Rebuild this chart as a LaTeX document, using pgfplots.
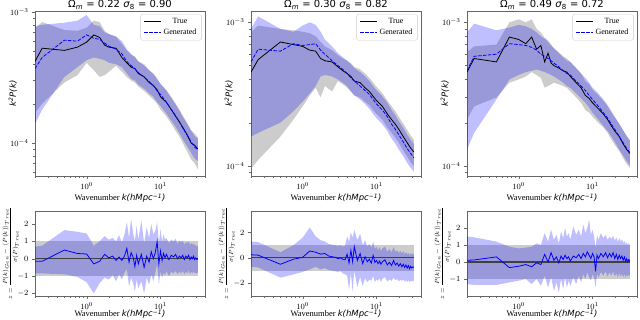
\documentclass[border=0pt]{standalone}
\usepackage{fontspec}
\setmainfont{Liberation Serif}
\newfontfamily\dejavu{DejaVu Sans}
\usepackage{pgfplots}
\usepackage{pgfplotstable}
\pgfplotsset{compat=1.18}
\usepgfplotslibrary{fillbetween}

% top panels: k, true mean, true band, generated mean, generated band
\pgfplotstableread{
k    T       Tlo     Thi     G       Glo     Ghi
0.2  4.2e-4  1.7e-4  7.5e-4  3.7e-4  1.4e-4  7.8e-4
0.25 5.3e-4  2.0e-4  8.4e-4  4.5e-4  1.8e-4  8.0e-4
0.5  5.1e-4  2.9e-4  7.3e-4  6.1e-4  3.2e-4  8.3e-4
0.75 5.4e-4  3.3e-4  7.2e-4  6.0e-4  3.8e-4  8.6e-4
1.0  5.9e-4  4.1e-4  7.6e-4  6.7e-4  4.3e-4  9.5e-4
1.25 6.7e-4  3.6e-4  8.6e-4  6.3e-4  4.5e-4  8.0e-4
1.5  6.4e-4  3.2e-4  8.4e-4  6.2e-4  4.4e-4  7.8e-4
1.75 5.6e-4  3.3e-4  7.2e-4  5.8e-4  4.3e-4  7.0e-4
2.0  5.4e-4  3.5e-4  6.8e-4  5.5e-4  4.1e-4  6.8e-4
2.5  5.3e-4  3.9e-4  6.5e-4  5.2e-4  4.0e-4  6.5e-4
3.0  4.5e-4  3.5e-4  5.7e-4  4.8e-4  3.8e-4  6.0e-4
3.5  4.1e-4  3.2e-4  5.1e-4  4.2e-4  3.4e-4  5.2e-4
4.0  3.8e-4  3.0e-4  4.7e-4  3.9e-4  3.1e-4  4.8e-4
4.5  3.7e-4  2.9e-4  4.6e-4  3.7e-4  3.0e-4  4.5e-4
5    3.4e-4  2.7e-4  4.2e-4  3.45e-4 2.8e-4  4.2e-4
6    3.2e-4  2.5e-4  4.0e-4  3.2e-4  2.6e-4  3.9e-4
7    2.9e-4  2.3e-4  3.6e-4  2.95e-4 2.4e-4  3.6e-4
8    2.75e-4 2.15e-4 3.4e-4  2.75e-4 2.25e-4 3.35e-4
9    2.55e-4 2.0e-4  3.15e-4 2.5e-4  2.05e-4 3.05e-4
10   2.25e-4 1.8e-4  2.8e-4  2.35e-4 1.92e-4 2.85e-4
12   2.05e-4 1.6e-4  2.55e-4 2.05e-4 1.68e-4 2.5e-4
14   1.8e-4  1.4e-4  2.25e-4 1.8e-4  1.48e-4 2.2e-4
16   1.6e-4  1.24e-4 2.0e-4  1.62e-4 1.33e-4 1.97e-4
18   1.45e-4 1.12e-4 1.8e-4  1.45e-4 1.19e-4 1.76e-4
20   1.32e-4 1.0e-4  1.63e-4 1.3e-4  1.07e-4 1.58e-4
23   1.15e-4 8.6e-5  1.42e-4 1.15e-4 9.4e-5  1.4e-4
26   1.0e-4  7.5e-5  1.25e-4 1.02e-4 8.4e-5  1.24e-4
29   9.6e-5  7.0e-5  1.18e-4 9.3e-5  7.6e-5  1.13e-4
32   9.0e-5  6.3e-5  1.1e-4  8.9e-5  7.3e-5  1.08e-4
}\topA

\pgfplotstableread{
k    T       Tlo     Thi     G       Glo     Ghi
0.2  4.5e-4  9.5e-5  8.5e-4  5.3e-4  1.6e-4  9.0e-4
0.25 5.5e-4  1.1e-4  9.5e-4  6.5e-4  1.7e-4  1.1e-3
0.5  7.3e-4  1.6e-4  9.0e-4  6.3e-4  2.0e-4  9.0e-4
0.75 7.0e-4  2.1e-4  8.8e-4  7.1e-4  2.4e-4  8.6e-4
1.0  6.8e-4  2.6e-4  8.6e-4  6.9e-4  2.8e-4  9.5e-4
1.25 6.4e-4  3.1e-4  8.4e-4  7.0e-4  3.2e-4  1.0e-3
1.5  6.3e-4  3.5e-4  8.0e-4  7.1e-4  3.6e-4  9.6e-4
1.75 5.6e-4  3.0e-4  7.3e-4  6.4e-4  4.2e-4  8.6e-4
2.0  5.4e-4  3.6e-4  6.8e-4  6.0e-4  4.3e-4  7.6e-4
2.5  5.3e-4  3.3e-4  6.4e-4  5.4e-4  4.2e-4  6.8e-4
3.0  4.9e-4  3.9e-4  5.9e-4  5.0e-4  4.0e-4  6.1e-4
3.5  4.6e-4  3.7e-4  5.6e-4  4.7e-4  3.8e-4  5.7e-4
4.0  4.4e-4  3.5e-4  5.4e-4  4.4e-4  3.6e-4  5.4e-4
4.5  4.2e-4  3.3e-4  5.2e-4  4.1e-4  3.3e-4  5.1e-4
5    3.9e-4  3.1e-4  4.9e-4  3.9e-4  3.1e-4  4.8e-4
6    3.8e-4  3.0e-4  4.7e-4  3.6e-4  2.9e-4  4.5e-4
7    3.5e-4  2.8e-4  4.4e-4  3.35e-4 2.7e-4  4.2e-4
8    3.3e-4  2.65e-4 4.1e-4  3.15e-4 2.5e-4  3.9e-4
9    3.05e-4 2.45e-4 3.8e-4  2.9e-4  2.3e-4  3.6e-4
10   2.85e-4 2.3e-4  3.55e-4 2.7e-4  2.15e-4 3.35e-4
12   2.6e-4  2.1e-4  3.2e-4  2.45e-4 1.95e-4 3.05e-4
14   2.3e-4  1.85e-4 2.85e-4 2.2e-4  1.75e-4 2.75e-4
16   2.1e-4  1.7e-4  2.6e-4  1.95e-4 1.55e-4 2.45e-4
18   1.95e-4 1.57e-4 2.4e-4  1.8e-4  1.43e-4 2.25e-4
20   1.8e-4  1.45e-4 2.2e-4  1.65e-4 1.3e-4  2.05e-4
23   1.6e-4  1.28e-4 1.97e-4 1.47e-4 1.17e-4 1.84e-4
26   1.45e-4 1.16e-4 1.78e-4 1.32e-4 1.05e-4 1.65e-4
29   1.33e-4 1.06e-4 1.63e-4 1.22e-4 9.7e-5  1.52e-4
32   1.25e-4 1.0e-4  1.52e-4 1.14e-4 9.1e-5  1.42e-4
}\topB

\pgfplotstableread{
k    T       Tlo     Thi     G       Glo     Ghi
0.2  4.5e-4  2.1e-4  6.2e-4  4.6e-4  1.3e-4  8.5e-4
0.25 5.6e-4  2.6e-4  6.8e-4  5.8e-4  1.7e-4  9.8e-4
0.5  5.3e-4  3.0e-4  7.0e-4  6.0e-4  2.9e-4  8.8e-4
0.75 7.9e-4  3.8e-4  1.0e-3  7.1e-4  4.0e-4  9.2e-4
1.0  7.6e-4  4.0e-4  1.05e-3 7.0e-4  4.3e-4  9.6e-4
1.25 7.1e-4  4.2e-4  1.0e-3  6.9e-4  4.5e-4  9.4e-4
1.5  7.9e-4  4.5e-4  1.05e-3 6.7e-4  4.6e-4  9.0e-4
1.75 6.5e-4  4.3e-4  9.0e-4  6.4e-4  4.7e-4  8.5e-4
2.0  6.9e-4  4.1e-4  8.5e-4  6.0e-4  4.6e-4  8.0e-4
2.25 5.3e-4  3.5e-4  7.8e-4  5.8e-4  4.5e-4  7.7e-4
2.5  6.1e-4  3.6e-4  7.5e-4  5.6e-4  4.4e-4  7.3e-4
2.75 5.2e-4  3.7e-4  7.0e-4  5.4e-4  4.3e-4  6.9e-4
3.0  5.0e-4  3.8e-4  6.6e-4  5.2e-4  4.2e-4  6.6e-4
3.5  4.8e-4  3.7e-4  6.2e-4  4.9e-4  4.0e-4  6.1e-4
4.0  4.6e-4  3.6e-4  5.8e-4  4.6e-4  3.8e-4  5.7e-4
4.5  4.5e-4  3.5e-4  5.6e-4  4.4e-4  3.6e-4  5.4e-4
5    4.2e-4  3.3e-4  5.3e-4  4.3e-4  3.5e-4  5.3e-4
6    3.8e-4  3.0e-4  4.8e-4  3.9e-4  3.2e-4  4.8e-4
7    3.5e-4  2.75e-4 4.4e-4  3.6e-4  2.95e-4 4.4e-4
8    3.1e-4  2.45e-4 3.9e-4  3.35e-4 2.75e-4 4.1e-4
9    2.95e-4 2.35e-4 3.7e-4  3.1e-4  2.55e-4 3.8e-4
10   2.75e-4 2.2e-4  3.4e-4  2.9e-4  2.35e-4 3.5e-4
12   2.5e-4  2.0e-4  3.1e-4  2.6e-4  2.1e-4  3.2e-4
14   2.3e-4  1.85e-4 2.85e-4 2.35e-4 1.9e-4  2.9e-4
16   2.1e-4  1.7e-4  2.6e-4  2.15e-4 1.75e-4 2.65e-4
18   1.9e-4  1.52e-4 2.35e-4 1.95e-4 1.6e-4  2.4e-4
20   1.75e-4 1.4e-4  2.17e-4 1.8e-4  1.47e-4 2.2e-4
23   1.6e-4  1.27e-4 1.98e-4 1.6e-4  1.3e-4  1.95e-4
26   1.42e-4 1.13e-4 1.76e-4 1.45e-4 1.18e-4 1.77e-4
29   1.3e-4  1.03e-4 1.62e-4 1.32e-4 1.08e-4 1.61e-4
32   1.22e-4 9.7e-5  1.5e-4  1.24e-4 1.01e-4 1.51e-4
}\topC

% bottom panels: k, z score, band
\pgfplotstableread{
k    z      lo     hi
0.2  -0.15  -0.85  0.70
0.25 -0.15  -0.85  0.75
0.5   0.50  -0.90  1.65
0.75  0.30  -1.05  1.55
1.0   0.27  -1.35  1.45
1.25 -0.30  -2.00  0.75
1.5  -0.15  -1.40  1.00
1.75  0.25  -1.10  1.30
2.0   0.05  -1.20  1.10
2.25  0.15  -0.95  1.20
2.5  -0.10  -1.30  1.00
2.75  0.10  -0.90  1.35
3.0  -0.10  -1.20  0.95
3.25  0.15  -0.80  1.40
3.5   0.60  -0.60  2.10
3.75 -0.20  -1.60  1.20
4.0   0.35  -1.10  2.30
4.25  0.10  -1.40  1.50
4.5  -0.45  -1.90  1.00
4.75  0.20  -1.20  1.90
5.0  -0.30  -1.70  1.10
5.5   0.25  -1.30  2.20
6.0  -0.50  -2.00  0.90
6.5   0.15  -1.10  1.80
7.0  -0.20  -1.50  1.20
7.5   0.40  -0.90  2.00
8.0   0.00  -1.30  1.40
8.5   0.35  -0.80  1.60
9.0   1.00  -0.30  2.10
9.5  -0.30  -1.50  0.90
10    0.45  -0.70  1.70
10.5 -0.10  -1.10  1.00
11    0.30  -0.80  1.40
11.5  0.05  -0.95  1.10
12    0.25  -0.70  1.20
13   -0.05  -1.00  0.90
14    0.20  -0.75  1.10
15    0.10  -0.85  1.00
16    0.25  -0.70  1.15
17    0.00  -0.90  0.85
18    0.15  -0.75  1.05
19    0.05  -0.85  0.95
20    0.20  -0.70  1.05
21   -0.05  -0.90  0.80
22    0.15  -0.75  0.95
23    0.05  -0.85  0.90
24    0.20  -0.65  1.00
25   -0.05  -0.90  0.80
26    0.10  -0.75  0.90
27    0.00  -0.85  0.80
28    0.15  -0.70  0.90
29   -0.05  -0.85  0.75
30    0.05  -0.80  0.80
31   -0.05  -0.85  0.70
32    0.00  -0.80  0.75
}\botA

\pgfplotstableread{
k    z      lo     hi
0.2   0.25  -0.70  1.30
0.25  0.22  -0.75  1.25
0.5  -0.50  -1.55  0.45
0.75 -0.10  -1.30  1.00
1.0   0.05  -1.10  1.60
1.25  0.55  -0.90  2.40
1.5   0.45  -0.70  1.70
1.75  0.30  -0.90  1.40
2.0   0.35  -0.80  1.30
2.25  0.15  -0.95  1.10
2.5   0.10  -1.00  1.05
2.75  0.05  -1.05  1.00
3.0  -0.05  -1.10  0.95
3.25  0.00  -1.05  1.00
3.5  -0.10  -1.20  0.90
3.75 -0.15  -1.30  0.95
4.0   0.30  -1.40  1.70
4.25 -0.40  -2.50  1.30
4.5   0.60  -1.20  2.00
4.75 -0.30  -2.70  1.60
5.0   0.90  -1.00  2.20
5.5  -0.20  -2.30  1.40
6.0   0.35  -1.50  1.90
6.5  -0.45  -2.20  1.00
7.0   0.10  -1.60  1.40
7.5  -0.30  -1.90  0.90
8.0  -0.10  -1.70  1.10
8.5  -0.40  -1.80  0.80
9.0   0.20  -1.40  1.30
9.5  -0.35  -1.90  0.70
10   -0.20  -1.70  0.90
10.5 -0.45  -1.80  0.60
11   -0.25  -1.60  0.85
11.5 -0.50  -1.90  0.55
12   -0.30  -1.65  0.75
13   -0.15  -1.50  0.90
14   -0.55  -1.85  0.50
15   -0.35  -1.70  0.70
16   -0.60  -1.80  0.45
17   -0.20  -1.55  0.85
18   -0.55  -1.75  0.50
19   -0.40  -1.65  0.60
20   -0.65  -1.85  0.40
21   -0.45  -1.70  0.55
22   -0.70  -1.80  0.35
23   -0.50  -1.70  0.55
24   -0.75  -1.85  0.30
25   -0.55  -1.75  0.45
26   -0.80  -1.90  0.30
27   -0.60  -1.75  0.40
28   -0.85  -1.90  0.25
29   -0.65  -1.80  0.35
30   -0.80  -1.85  0.30
31   -0.70  -1.80  0.35
32   -0.75  -1.85  0.30
}\botB

\pgfplotstableread{
k    z      lo     hi
0.2   0.10  -1.30  1.50
0.25  0.12  -1.35  1.45
0.5   0.30  -1.35  1.20
0.75 -0.33  -1.20  0.90
1.0  -0.25  -1.10  0.80
1.25 -0.15  -1.00  0.85
1.5  -0.28  -1.30  0.90
1.75 -0.05  -1.00  1.10
2.0  -0.15  -1.40  1.00
2.25  0.45  -0.80  1.70
2.5   0.00  -1.50  1.20
2.75  0.55  -0.90  1.90
3.0   0.10  -1.70  1.30
3.25  0.30  -1.20  1.60
3.5  -0.05  -1.80  1.10
3.75  0.35  -1.00  1.80
4.0   0.15  -1.60  1.40
4.25  0.40  -0.90  2.00
4.5   0.20  -1.50  1.50
4.75  0.30  -1.10  1.70
5.0   0.05  -1.40  1.30
5.5   0.35  -0.90  2.10
6.0   0.25  -1.30  1.60
6.5   0.45  -0.80  1.90
7.0   0.20  -1.20  1.50
7.5   0.50  -0.70  2.20
8.0   0.30  -1.00  1.70
8.5   0.60  -0.60  2.00
9.0   0.40  -0.90  2.50
9.5   0.20  -1.10  1.60
10    0.50  -0.70  1.90
10.5  0.30  -0.90  1.50
11   -0.55  -1.50  0.80
11.5  0.40  -0.70  1.60
12    0.20  -0.90  1.30
13    0.50  -0.60  1.70
14    0.30  -0.80  1.40
15    0.55  -0.55  1.60
16    0.25  -0.85  1.30
17    0.50  -0.60  1.50
18    0.30  -0.80  1.35
19    0.55  -0.55  1.55
20    0.20  -0.85  1.25
21    0.45  -0.65  1.45
22    0.15  -0.90  1.20
23    0.40  -0.65  1.40
24    0.20  -0.85  1.20
25    0.35  -0.70  1.35
26    0.10  -0.90  1.10
27    0.30  -0.70  1.25
28    0.05  -0.90  1.05
29    0.20  -0.75  1.15
30    0.00  -0.85  1.00
31    0.15  -0.75  1.10
32    0.05  -0.80  1.00
}\botC

\newcommand\topplots[1]{%
  \addplot[draw=none, name path=tl, forget plot] table[x=k,y=Tlo]{#1};
  \addplot[draw=none, name path=th, forget plot] table[x=k,y=Thi]{#1};
  \addplot[draw=none, name path=gl, forget plot] table[x=k,y=Glo]{#1};
  \addplot[draw=none, name path=gh, forget plot] table[x=k,y=Ghi]{#1};
  \addplot[draw=none, fill=gray, fill opacity=0.4, forget plot] fill between[of=tl and th];
  \addplot[draw=none, fill=blue, fill opacity=0.25, forget plot] fill between[of=gl and gh];
  \addplot[black, line width=0.8pt] table[x=k,y=T]{#1};
  \addlegendentry{True}
  \addplot[blue, line width=0.8pt, dash pattern=on 3.5pt off 1.5pt] table[x=k,y=G]{#1};
  \addlegendentry{Generated}
}
\newcommand\botplots[1]{%
  \addplot[draw=none, name path=za, forget plot] coordinates {(0.2,-1) (32,-1)};
  \addplot[draw=none, name path=zb, forget plot] coordinates {(0.2,1) (32,1)};
  \addplot[draw=none, fill=gray, fill opacity=0.4, forget plot] fill between[of=za and zb];
  \addplot[draw=none, name path=bl, forget plot] table[x=k,y=lo]{#1};
  \addplot[draw=none, name path=bh, forget plot] table[x=k,y=hi]{#1};
  \addplot[draw=none, fill=blue, fill opacity=0.25, forget plot] fill between[of=bl and bh];
  \addplot[black!75, line width=1.1pt, forget plot] coordinates {(0.2,0) (32,0)};
  \addplot[blue, line width=0.8pt, forget plot] table[x=k,y=z]{#1};
}

\newcommand\xlab{Wavenumber {\dejavu\itshape k(hMpc\textsuperscript{−1})}}
\newcommand\ylabtop{{\dejavu\itshape k\textsuperscript{2}P(k)}}
\newcommand\ylabbot{\fontsize{6.5}{7}\selectfont $\displaystyle z=\frac{P(k)_{Gen}-\langle P(k)\rangle_{True}}{\sigma(P)_{True}}$}

\begin{document}
\begin{tikzpicture}

% ---------- top row ----------
\begin{axis}[at={(35pt,144pt)}, anchor=south west,
  scale only axis, width=170pt, height=165pt,
  xmode=log, ymode=log, xmin=0.2, xmax=40, ymin=5.6e-5, ymax=1.02e-3,
  axis line style={black!60}, tick style={black!60}, tick align=outside,
  xtick pos=left, ytick pos=left, major tick length=3pt, minor tick length=1.8pt,
  ticklabel style={font=\fontsize{8}{9}\selectfont},
  xlabel={\xlab}, ylabel={\ylabtop},
  label style={font=\fontsize{8.5}{10}\selectfont},
  xlabel style={at={(axis description cs:0.5,0)}, anchor=base, yshift=-25pt},
  ylabel style={at={(axis description cs:-0.085,0.5)}, anchor=south},
  title={Ω\textsubscript{\textit{m}} = 0.22 \textit{σ}\textsubscript{8} = 0.90},
  title style={font=\dejavu\fontsize{10}{12}\selectfont, at={(0.5,1)}, anchor=base, yshift=-3pt},
  legend style={at={(0.98,0.98)}, anchor=north east, draw=black!20,
    rounded corners=2pt, font=\fontsize{8}{9.5}\selectfont,
    fill=white, fill opacity=0.8, text opacity=1}]
\topplots{\topA}
\end{axis}

\begin{axis}[at={(251pt,144pt)}, anchor=south west,
  scale only axis, width=170pt, height=165pt,
  xmode=log, ymode=log, xmin=0.2, xmax=40, ymin=8.5e-5, ymax=1.2e-3,
  axis line style={black!60}, tick style={black!60}, tick align=outside,
  xtick pos=left, ytick pos=left, major tick length=3pt, minor tick length=1.8pt,
  ticklabel style={font=\fontsize{8}{9}\selectfont},
  xlabel={\xlab}, ylabel={\ylabtop},
  label style={font=\fontsize{8.5}{10}\selectfont},
  xlabel style={at={(axis description cs:0.5,0)}, anchor=base, yshift=-25pt},
  ylabel style={at={(axis description cs:-0.085,0.5)}, anchor=south},
  title={Ω\textsubscript{\textit{m}} = 0.30 \textit{σ}\textsubscript{8} = 0.82},
  title style={font=\dejavu\fontsize{10}{12}\selectfont, at={(0.5,1)}, anchor=base, yshift=-3pt},
  legend style={at={(0.98,0.98)}, anchor=north east, draw=black!20,
    rounded corners=2pt, font=\fontsize{8}{9.5}\selectfont,
    fill=white, fill opacity=0.8, text opacity=1}]
\topplots{\topB}
\end{axis}

\begin{axis}[at={(467pt,144pt)}, anchor=south west,
  scale only axis, width=170pt, height=165pt,
  xmode=log, ymode=log, xmin=0.2, xmax=40, ymin=8.5e-5, ymax=1.2e-3,
  axis line style={black!60}, tick style={black!60}, tick align=outside,
  xtick pos=left, ytick pos=left, major tick length=3pt, minor tick length=1.8pt,
  ticklabel style={font=\fontsize{8}{9}\selectfont},
  xlabel={\xlab}, ylabel={\ylabtop},
  label style={font=\fontsize{8.5}{10}\selectfont},
  xlabel style={at={(axis description cs:0.5,0)}, anchor=base, yshift=-25pt},
  ylabel style={at={(axis description cs:-0.085,0.5)}, anchor=south},
  title={Ω\textsubscript{\textit{m}} = 0.49 \textit{σ}\textsubscript{8} = 0.72},
  title style={font=\dejavu\fontsize{10}{12}\selectfont, at={(0.5,1)}, anchor=base, yshift=-3pt},
  legend style={at={(0.98,0.98)}, anchor=north east, draw=black!20,
    rounded corners=2pt, font=\fontsize{8}{9.5}\selectfont,
    fill=white, fill opacity=0.8, text opacity=1}]
\topplots{\topC}
\end{axis}

% ---------- bottom row ----------
\begin{axis}[at={(35pt,24pt)}, anchor=south west,
  scale only axis, width=170pt, height=85pt,
  xmode=log, xmin=0.2, xmax=40, ymin=-2.15, ymax=2.75, ytick={-2,-1,0,1,2},
  axis line style={black!60}, tick style={black!60}, tick align=outside,
  xtick pos=left, ytick pos=left, major tick length=3pt, minor tick length=1.8pt,
  ticklabel style={font=\fontsize{8}{9}\selectfont},
  xlabel={\xlab}, ylabel={\ylabbot},
  label style={font=\fontsize{8.5}{10}\selectfont},
  xlabel style={at={(axis description cs:0.5,0)}, anchor=base, yshift=-21pt},
  ylabel style={at={(axis description cs:-0.075,0.5)}, anchor=south}]
\botplots{\botA}
\end{axis}

\begin{axis}[at={(251pt,24pt)}, anchor=south west,
  scale only axis, width=170pt, height=85pt,
  xmode=log, xmin=0.2, xmax=40, ymin=-3, ymax=3.7, ytick={-2,0,2},
  axis line style={black!60}, tick style={black!60}, tick align=outside,
  xtick pos=left, ytick pos=left, major tick length=3pt, minor tick length=1.8pt,
  ticklabel style={font=\fontsize{8}{9}\selectfont},
  xlabel={\xlab}, ylabel={\ylabbot},
  label style={font=\fontsize{8.5}{10}\selectfont},
  xlabel style={at={(axis description cs:0.5,0)}, anchor=base, yshift=-21pt},
  ylabel style={at={(axis description cs:-0.075,0.5)}, anchor=south}]
\botplots{\botB}
\end{axis}

\begin{axis}[at={(467pt,24pt)}, anchor=south west,
  scale only axis, width=170pt, height=85pt,
  xmode=log, xmin=0.2, xmax=40, ymin=-2, ymax=3, ytick={-1,0,1,2},
  axis line style={black!60}, tick style={black!60}, tick align=outside,
  xtick pos=left, ytick pos=left, major tick length=3pt, minor tick length=1.8pt,
  ticklabel style={font=\fontsize{8}{9}\selectfont},
  xlabel={\xlab}, ylabel={\ylabbot},
  label style={font=\fontsize{8.5}{10}\selectfont},
  xlabel style={at={(axis description cs:0.5,0)}, anchor=base, yshift=-21pt},
  ylabel style={at={(axis description cs:-0.075,0.5)}, anchor=south}]
\botplots{\botC}
\end{axis}

\pgfresetboundingbox
\path[use as bounding box] (0,0) rectangle (640pt,320pt);
\end{tikzpicture}
\end{document}
